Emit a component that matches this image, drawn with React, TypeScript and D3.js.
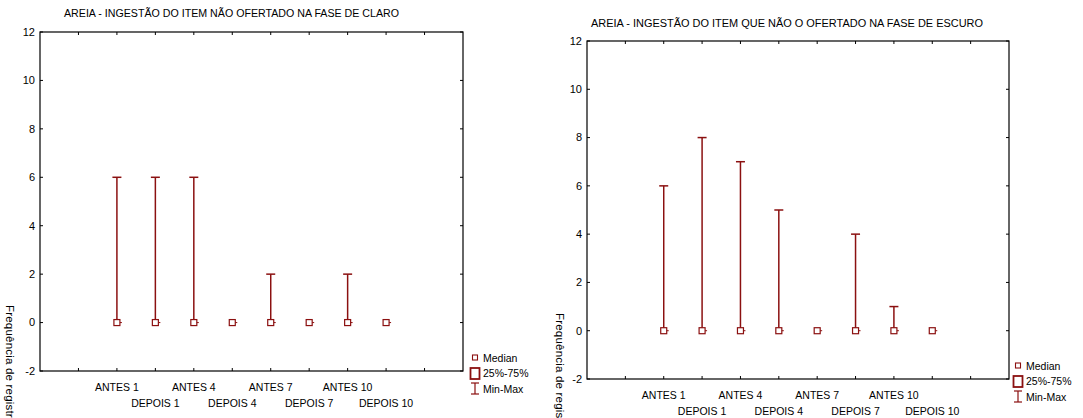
import React from "react";
import * as d3 from "d3";

const categories = ["ANTES 1", "DEPOIS 1", "ANTES 4", "DEPOIS 4", "ANTES 7", "DEPOIS 7", "ANTES 10", "DEPOIS 10"];
const leftMedian = [0, 0, 0, 0, 0, 0, 0, 0];
const leftMin = [0, 0, 0, 0, 0, 0, 0, 0];
const leftMax = [6, 6, 6, 0, 2, 0, 2, 0];
const rightMedian = [0, 0, 0, 0, 0, 0, 0, 0];
const rightMin = [0, 0, 0, 0, 0, 0, 0, 0];
const rightMax = [6, 8, 7, 5, 0, 4, 1, 0];
const yTicks = [-2, 0, 2, 4, 6, 8, 10, 12];
const leftTitle = "AREIA - INGESTÃO DO ITEM NÃO OFERTADO NA FASE DE CLARO";
const rightTitle = "AREIA - INGESTÃO DO ITEM QUE NÃO O OFERTADO NA FASE DE ESCURO";
const yLabel = "Frequência de registro";
const legendLabels = ["Median", "25%-75%", "Min-Max"];

const RED = "#8b1010";
const FONT = "'Liberation Sans', Arial, sans-serif";

type PanelProps = {
  x0: number; x1: number; y0: number; y1: number;
  title: string; titleX: number; titleY: number; titleW: number;
  med: number[]; mn: number[]; mx: number[];
  ylabX: number; ylabY: number;
  legX: number; legY: number;
};

function Panel(p: PanelProps) {
  const x = d3.scaleLinear().domain([0, 11]).range([p.x0, p.x1]);
  const y = d3.scaleLinear().domain([-2, 12]).range([p.y1, p.y0]);
  const xTickVals = d3.range(1, 11);
  return (
    <g fontFamily={FONT}>
      <text x={p.titleX} y={p.titleY} fontSize={10} textLength={p.titleW} lengthAdjust="spacingAndGlyphs" fill="#000">{p.title}</text>
      <rect x={p.x0} y={p.y0} width={p.x1 - p.x0} height={p.y1 - p.y0} fill="none" stroke="#000" strokeWidth={1.2} />
      {xTickVals.map((t) => (
        <g key={"xt" + t}>
          <line x1={x(t)} x2={x(t)} y1={p.y0} y2={p.y0 + 3} stroke="#000" />
          <line x1={x(t)} x2={x(t)} y1={p.y1} y2={p.y1 - 3} stroke="#000" />
        </g>
      ))}
      {yTicks.map((t) => (
        <g key={"yt" + t}>
          <line x1={p.x0} x2={p.x0 + 3} y1={y(t)} y2={y(t)} stroke="#000" />
          <line x1={p.x1} x2={p.x1 - 3} y1={y(t)} y2={y(t)} stroke="#000" />
          <text x={p.x0 - 5} y={y(t)} dy="0.35em" textAnchor="end" fontSize={11} fill="#000">{t}</text>
        </g>
      ))}
      {categories.map((c, i) => (
        <text key={c} x={x(i + 2)} y={i % 2 === 0 ? p.y1 + 20 : p.y1 + 36} textAnchor="middle" fontSize={10.5} fill="#000">{c}</text>
      ))}
      {categories.map((c, i) => {
        const cx = x(i + 2);
        return (
          <g key={"m" + c}>
            {p.mx[i] > p.mn[i] && (
              <>
                <line x1={cx} x2={cx} y1={y(p.mn[i])} y2={y(p.mx[i])} stroke={RED} strokeWidth={1.5} />
                <line x1={cx - 4.5} x2={cx + 4.5} y1={y(p.mx[i])} y2={y(p.mx[i])} stroke={RED} strokeWidth={1.5} />
              </>
            )}
            <line x1={cx} x2={cx + 5} y1={y(p.med[i])} y2={y(p.med[i])} stroke={RED} strokeWidth={1} />
            <rect x={cx - 3} y={y(p.med[i]) - 3} width={6} height={6} fill="#fff" stroke={RED} strokeWidth={1.2} />
          </g>
        );
      })}
      <text transform={`translate(${p.ylabX},${p.ylabY}) rotate(90)`} fontSize={11.5} letterSpacing={0.2} fill="#000">{yLabel}</text>
      <g>
        <rect x={p.legX - 2.5} y={p.legY - 3} width={5} height={5} fill="#fff" stroke={RED} strokeWidth={1.1} />
        <text x={p.legX + 8} y={p.legY} dy="0.35em" fontSize={10.5} fill="#000">{legendLabels[0]}</text>
        <rect x={p.legX - 4.5} y={p.legY + 10} width={9} height={11} fill="#fff" stroke={RED} strokeWidth={1.8} />
        <text x={p.legX + 8} y={p.legY + 15.5} dy="0.35em" fontSize={10.5} fill="#000">{legendLabels[1]}</text>
        <line x1={p.legX} x2={p.legX} y1={p.legY + 25} y2={p.legY + 36} stroke={RED} strokeWidth={1.2} />
        <line x1={p.legX - 4} x2={p.legX + 4} y1={p.legY + 25} y2={p.legY + 25} stroke={RED} strokeWidth={1.2} />
        <line x1={p.legX - 4} x2={p.legX + 4} y1={p.legY + 36} y2={p.legY + 36} stroke={RED} strokeWidth={1.2} />
        <text x={p.legX + 8} y={p.legY + 31} dy="0.35em" fontSize={10.5} fill="#000">{legendLabels[2]}</text>
      </g>
    </g>
  );
}

export default function App() {
  return (
    <svg width={1083} height={418} style={{ position: "absolute", left: 0, top: 0, background: "#fff" }}>
      <rect width={1083} height={418} fill="#fff" />
      <Panel x0={40} x1={463} y0={32} y1={371} title={leftTitle} titleX={64} titleY={17} titleW={335}
        med={leftMedian} mn={leftMin} mx={leftMax} ylabX={6} ylabY={305} legX={475} legY={358} />
      <Panel x0={587} x1={1009} y0={41} y1={379} title={rightTitle} titleX={591} titleY={27} titleW={392}
        med={rightMedian} mn={rightMin} mx={rightMax} ylabX={556} ylabY={313} legX={1018} legY={366} />
    </svg>
  );
}
